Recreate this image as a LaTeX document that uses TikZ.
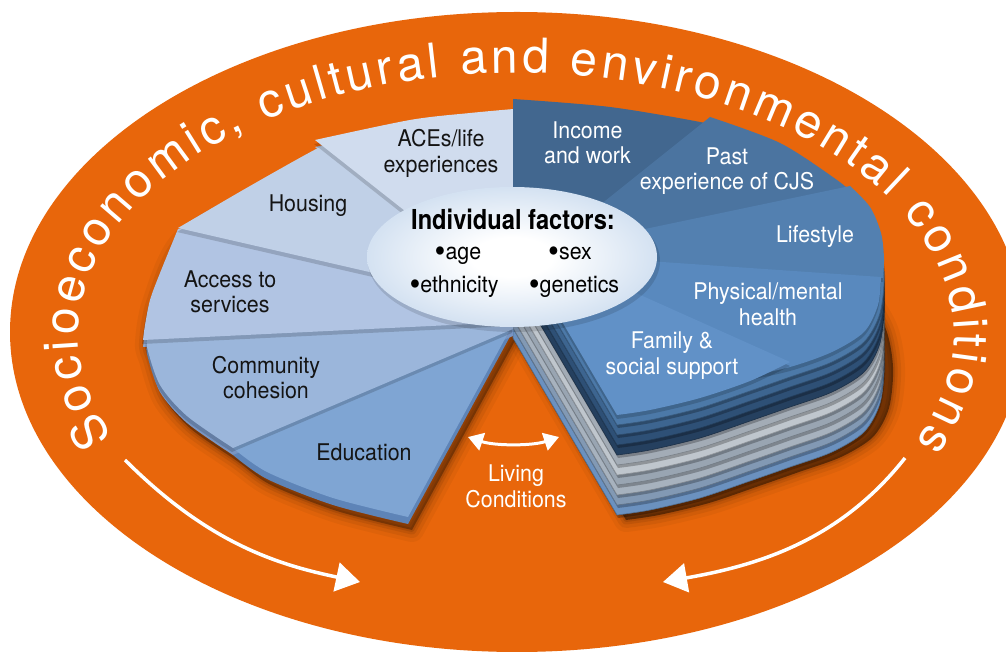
\documentclass[tikz,border=0pt]{standalone}
\usepackage{fontspec}
\usepackage{graphicx}
\usetikzlibrary{decorations.text,arrows.meta}
\newfontfamily\ringfam{TeX Gyre Heros}
\newfontfamily\labfam[FakeStretch=0.93]{TeX Gyre Heros}
\newfontfamily\boldfam[FakeStretch=0.86]{TeX Gyre Heros}
\newcommand\ringfont{\ringfam\fontsize{48}{48}\selectfont\color{white}}
\newcommand\bigbul{\raisebox{-0.1em}{\scalebox{1.45}{\textbullet}}}

\definecolor{orng}{HTML}{E8660B}
\definecolor{cACE}{HTML}{D0DCEE}
\definecolor{cHou}{HTML}{C0D0E7}
\definecolor{cAcc}{HTML}{B1C4E3}
\definecolor{cCom}{HTML}{9BB6DB}
\definecolor{cEdu}{HTML}{7FA5D3}
\definecolor{rACE}{HTML}{A7B8D3}
\definecolor{rHou}{HTML}{98ADCE}
\definecolor{rAcc}{HTML}{8AA2C9}
\definecolor{rCom}{HTML}{7895C3}
\definecolor{rEdu}{HTML}{5E84B7}
\definecolor{cInc}{HTML}{42678F}
\definecolor{cPas}{HTML}{4B74A0}
\definecolor{cLif}{HTML}{5380B0}
\definecolor{cPhy}{HTML}{5989BE}
\definecolor{cFam}{HTML}{6191C7}
\definecolor{ellB}{HTML}{98B9DF}
\definecolor{L1}{HTML}{4C79A8}
\definecolor{L2}{HTML}{3D6590}
\definecolor{L3}{HTML}{2E5076}
\definecolor{L4}{HTML}{25405F}
\definecolor{L5}{HTML}{A3ACB6}
\definecolor{L6}{HTML}{BFC6CD}
\definecolor{L7}{HTML}{99A5B2}
\definecolor{L8}{HTML}{A7B2BE}
\definecolor{L9}{HTML}{8299B4}
\definecolor{L10}{HTML}{6B91BF}

\pgfdeclareradialshading{ellshade}{\pgfpoint{0bp}{0bp}}{color(0bp)=(white); color(7bp)=(white); color(50bp)=(ellB)}

% left pie slices (screen coordinates, y downwards)
\newcommand\sEdu[1]{\path[#1] (513,324) -- (408,517) -- plot[smooth] coordinates {(408,517) (333,498) (267,472) (233,448)} -- (300,400) -- cycle;}
\newcommand\sCom[1]{\path[#1] (513,329) -- (233,448) -- plot[smooth] coordinates {(233,448) (187,416) (160,385) (147,347) (148,334)} -- (513,300) -- cycle;}
\newcommand\sAcc[1]{\path[#1] (513,322) -- (143,340) -- plot[smooth] coordinates {(143,340) (145,325) (150,300) (160,273) (178,229)} -- (200,225) -- (513,290) -- cycle;}
\newcommand\sHou[1]{\path[#1] (513,305) -- (178,228) -- plot[smooth] coordinates {(178,228) (250,186) (320,147) (340,141)} -- (450,230) -- cycle;}
\newcommand\sACE[1]{\path[#1] (480,270) -- (315,140) -- plot[smooth] coordinates {(315,140) (410,120) (470,113) (525,108)} -- (525,250) -- cycle;}
\newcommand\sLeft[1]{\path[#1] (513,324) -- (408,517) -- plot[smooth] coordinates {(408,517) (333,498) (267,472) (233,448) (187,416) (160,385) (147,347) (143,330) (150,290) (178,229) (250,186) (320,147) (410,120) (513,108)} -- cycle;}
% right pie top slices
\newcommand\sInc[1]{\path[#1] (513,255) -- (513,99) -- plot[smooth] coordinates {(513,99) (610,107) (705,123) (725,131)} -- (540,253) -- cycle;}
\newcommand\sPas[1]{\path[#1] (540,253) -- (710,117) -- plot[smooth] coordinates {(710,117) (780,143) (837,180) (853,194)} -- cycle;}
\newcommand\sLif[1]{\path[#1] (540,251) -- (850,186) -- plot[smooth] coordinates {(850,186) (870,207) (881,233) (884,258) (883,278)} -- (700,275) -- (560,262) -- cycle;}
\newcommand\sPhy[1]{\path[#1] (560,255) -- (881,277) -- plot[smooth] coordinates {(881,277) (878,305) (864,332) (832,352) (790,367) (740,378)} -- cycle;}
\newcommand\sFam[1]{\path[#1] (527,262) -- (560,259) -- (790,362) -- plot[smooth] coordinates {(790,362) (750,381) (700,398) (650,410) (617,415)} -- cycle;}
% outline of one layer of the stack
\newcommand\sStk[1]{\path[#1] (513,238) -- (513,99) -- plot[smooth] coordinates {(513,99) (610,106) (710,117) (790,148) (850,186) (876,222) (884,262) (880,303) (864,332) (832,352) (790,367) (750,381) (700,398) (650,410) (617,415)} -- cycle;}

\newcommand\blurshadow[3]{%
  \foreach \w/\o in {24/0.04,16/0.06,9/0.08,4/0.1}{#1{draw=black,line width=\w pt,opacity=\o,line join=round,shift={#2}}}%
  #1{fill=black,opacity=#3,shift={#2}}}

\begin{document}
\begin{tikzpicture}[x=1pt,y=1pt,
  lab/.style={font=\labfam\fontsize{23}{25.5}\selectfont, align=center, inner sep=0pt},
  labw/.style={lab, text=white},
  labk/.style={lab, text=black!92},
  bul/.style={font=\labfam\fontsize{23}{25.5}\selectfont, inner sep=0pt, anchor=base, text=black},
  bigarrow/.style={draw=white, line width=3.5pt, -{Triangle[width=29pt,length=24pt]}},
  slshadow/.style={fill=black, opacity=0.16}]
\useasboundingbox (0,0) rectangle (1006,651);
\clip (0,0) rectangle (1006,651);
\fill[white] (0,0) rectangle (1006,651);
\begin{scope}[shift={(0,651)},yscale=-1]
  % outer ring
  \fill[orng] (517,332) ellipse [x radius=507, y radius=320];
  % cast shadows on the orange
  \blurshadow\sStk{(9,105)}{0.45}
  \blurshadow\sLeft{(4,13)}{0.3}
  % stacked layers of the right pie
  \foreach \k/\c in {10/L10,9/L9,8/L8,7/L7,6/L6,5/L5,4/L4,3/L3,2/L2,1/L1}{
    \sStk{fill=black,opacity=0.25,shift={(1,10*\k+3)}}
    \sStk{fill=\c,draw=\c!75!black,line width=0.6pt,shift={(0,10*\k)}}
  }
  % left pie: thickness
  \sEdu{fill=rEdu,shift={(0,7)}}
  \sCom{fill=rCom,shift={(0,7)}}
  \sAcc{fill=rAcc,shift={(0,7)}}
  \sHou{fill=rHou,shift={(0,7)}}
  \sACE{fill=rACE,shift={(0,7)}}
  % left pie: faces
  \sEdu{fill=cEdu}
  \sCom{slshadow,shift={(-1,4)}} \sCom{fill=cCom}
  \sAcc{slshadow,shift={(-1,4)}} \sAcc{fill=cAcc}
  \sHou{slshadow,shift={(-1,4)}} \sHou{fill=cHou}
  \sACE{slshadow,shift={(-1,4)}} \sACE{fill=cACE}
  % right pie: top slices
  \sInc{slshadow,shift={(0,4)}} \sInc{fill=cInc}
  \sPas{slshadow,shift={(0,4)}} \sPas{fill=cPas}
  \sLif{slshadow,shift={(0,4)}} \sLif{fill=cLif}
  \sPhy{slshadow,shift={(0,4)}} \sPhy{fill=cPhy}
  \sFam{slshadow,shift={(0,4)}} \sFam{fill=cFam}
  % individual factors
  \fill[black,opacity=0.12] (514,261) ellipse [x radius=146, y radius=71];
  \path[shading=ellshade] (512,257) ellipse [x radius=145, y radius=70];
  \node[font=\boldfam\bfseries\fontsize{27.5}{30}\selectfont, inner sep=0pt, anchor=base] (nIF) at (513,230) {Individual factors:};
  \node[bul] (nAge) at (458,260) {\bigbul age};
  \node[bul] (nSex) at (570,260) {\bigbul sex};
  \node[bul] (nEth) at (454,293) {\bigbul ethnicity};
  \node[bul] (nGen) at (574,293) {\bigbul genetics};
  % labels
  \node[labk] (nACE) at (441,153.6) {ACEs/life\\experiences};
  \node[labk, anchor=base] (nHou) at (308,212) {Housing};
  \node[labk] (nAcc) at (230,291.9) {Access to\\services};
  \node[labk] (nCom) at (266,377.4) {Community\\cohesion};
  \node[labk, anchor=base] (nEdu) at (364,460) {Education};
  \node[labw] (nInc) at (587.5,142.9) {Income\\and work};
  \node[labw] (nPas) at (727,171.1) {Past\\experience of CJS};
  \node[labw, anchor=base] (nLif) at (815,243) {Lifestyle};
  \node[labw] (nPhy) at (768,304.4) {Physical/mental\\health};
  \node[labw] (nFam) at (672,355.6) {Family \&\\social support};
  \node[labw] (nLiv) at (516,486.4) {Living\\Conditions};
  % arrows
  \coordinate (la1) at (125,460); \coordinate (la2) at (360,582);
  \draw[bigarrow] (la1) .. controls (210,545) and (280,565) .. (la2);
  \coordinate (ra1) at (905,458); \coordinate (ra2) at (663,582);
  \draw[bigarrow] (ra1) .. controls (840,540) and (760,565) .. (ra2);
  \coordinate (lv1) at (468,437); \coordinate (lv2) at (559,437);
  \draw[white, line width=3pt, {Triangle[width=18pt,length=15pt]}-{Triangle[width=18pt,length=15pt]}] (lv1) .. controls (495,446) and (532,446) .. (lv2);
\end{scope}
% ring text (y upwards)
\path[decorate, decoration={text along path,
   text={|\ringfont|Socioeconomic, cultural and environmental conditions},
   text align={fit to path}}]
   (516,316) ++(203:438 and 262) arc[start angle=203, end angle=-24.1, x radius=438, y radius=262];
\end{tikzpicture}
\end{document}
